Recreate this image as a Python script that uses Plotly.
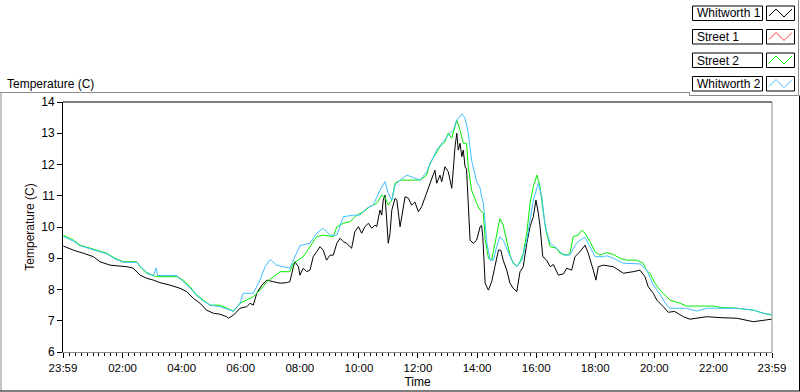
import plotly.graph_objects as go

# ---------------- data (time = hours after 23:59 of the previous day) ----------------
w1_t = [0.01, 0.35, 0.69, 1.03, 1.25, 1.59, 2.16, 2.38, 2.61, 2.83, 3.06, 3.28, 3.62, 3.96, 4.19, 4.41,
        4.64, 4.86, 5.09, 5.31, 5.54, 5.60, 5.77, 5.99, 6.22, 6.33, 6.44, 6.56, 6.73, 6.90, 7.12, 7.35,
        7.57, 7.68, 7.80, 7.85, 7.97, 8.02, 8.13, 8.25, 8.36, 8.47, 8.59, 8.70, 8.81, 8.92, 9.04, 9.15,
        9.27, 9.38, 9.49, 9.60, 9.77, 9.88, 10.00, 10.11, 10.22, 10.34, 10.45, 10.56, 10.62, 10.73, 10.79,
        10.84, 10.90, 10.96, 11.01, 11.07, 11.13, 11.24, 11.30, 11.41, 11.52, 11.58, 11.69, 11.80, 11.91,
        12.03, 12.14, 12.25, 12.37, 12.48, 12.59, 12.65, 12.76, 12.82, 12.93, 13.04, 13.16, 13.21, 13.27,
        13.33, 13.38, 13.44, 13.50, 13.55, 13.61, 13.66, 13.72, 13.78, 13.89, 14.00, 14.12, 14.17, 14.21,
        14.29, 14.40, 14.51, 14.62, 14.74, 14.82, 14.90, 15.02, 15.13, 15.24, 15.36, 15.47, 15.58, 15.70,
        15.81, 15.92, 16.01, 16.09, 16.15, 16.24, 16.37, 16.49, 16.60, 16.77, 16.94, 17.05, 17.22, 17.33,
        17.50, 17.67, 17.78, 17.95, 18.04, 18.12, 18.29, 18.63, 18.97, 19.30, 19.53, 19.70, 19.81, 19.98,
        20.10, 20.32, 20.49, 20.70, 21.00, 21.22, 21.79, 22.24, 22.81, 23.37, 23.71, 23.99]
w1_v = [9.39, 9.26, 9.16, 9.05, 8.89, 8.78, 8.73, 8.68, 8.46, 8.36, 8.30, 8.22, 8.14, 8.04, 7.93, 7.72,
        7.56, 7.34, 7.24, 7.21, 7.13, 7.08, 7.18, 7.40, 7.45, 7.56, 7.50, 7.88, 8.14, 8.30, 8.25, 8.20,
        8.22, 8.25, 8.73, 8.89, 8.73, 8.46, 8.68, 8.57, 8.62, 9.05, 9.21, 9.37, 9.26, 8.94, 9.10, 9.10,
        9.48, 9.64, 9.53, 9.48, 9.32, 9.85, 10.01, 9.80, 10.01, 10.12, 9.96, 10.06, 10.01, 10.54, 10.38,
        10.86, 11.02, 10.22, 9.48, 9.80, 10.54, 10.92, 10.86, 10.01, 10.65, 10.97, 10.92, 10.70, 10.80,
        10.49, 10.65, 10.92, 11.24, 11.50, 11.82, 11.40, 11.66, 11.45, 11.93, 11.77, 11.24, 11.82, 12.57,
        13.00, 12.46, 12.68, 12.25, 12.46, 11.93, 11.85, 10.86, 9.58, 9.48, 9.58, 10.01, 10.05, 9.69,
        8.20, 7.98, 8.25, 8.73, 9.26, 9.26, 8.94, 8.62, 8.20, 8.04, 7.93, 8.57, 8.73, 9.48,
        10.01, 10.33, 10.86, 10.44, 10.00, 9.05, 8.94, 8.73, 8.80, 8.46, 8.50, 8.68, 8.62, 9.05,
        9.21, 9.42, 9.16, 8.62, 8.30, 8.73, 8.78, 8.73, 8.52, 8.57, 8.62, 8.41, 8.09, 7.88,
        7.66, 7.45, 7.27, 7.30, 7.13, 7.05, 7.13, 7.10, 7.08, 6.97, 7.02, 7.05]

s1_t = []   # Street 1: no samples drawn
s1_v = []

s2_t = [0.01, 0.35, 0.58, 1.14, 1.48, 1.76, 2.04, 2.49, 2.61, 2.83, 3.17, 3.85, 4.07, 4.30, 4.53, 4.75,
        4.98, 5.31, 5.54, 5.77, 5.99, 6.44, 6.67, 6.90, 7.35, 7.68, 7.80, 8.13, 8.36, 8.59, 8.81, 9.15,
        9.27, 9.49, 9.72, 9.94, 10.17, 10.39, 10.62, 10.79, 10.90, 11.01, 11.13, 11.24, 11.41, 11.64, 12.09,
        12.31, 12.42, 12.59, 12.76, 12.93, 13.04, 13.16, 13.27, 13.33, 13.44, 13.55, 13.66, 13.72, 13.83,
        14.00, 14.12, 14.23, 14.29, 14.40, 14.51, 14.62, 14.74, 14.79, 14.90, 15.02, 15.13, 15.24, 15.36,
        15.47, 15.58, 15.70, 15.81, 15.92, 16.04, 16.15, 16.26, 16.37, 16.49, 16.71, 16.82, 17.05, 17.16,
        17.27, 17.44, 17.56, 17.67, 17.84, 18.01, 18.18, 18.41, 18.63, 18.86, 19.08, 19.42, 19.64, 19.76,
        19.87, 20.04, 20.21, 20.32, 20.55, 20.89, 21.11, 22.00, 22.24, 22.81, 23.37, 23.71, 23.99]
s2_v = [9.74, 9.58, 9.42, 9.26, 9.16, 9.00, 8.89, 8.89, 8.73, 8.52, 8.41, 8.41, 8.30, 8.09, 7.82, 7.66,
        7.50, 7.50, 7.40, 7.31, 7.56, 7.77, 7.98, 8.25, 8.57, 8.57, 8.84, 9.05, 9.37, 9.69, 9.74, 9.69,
        10.01, 10.12, 10.17, 10.38, 10.49, 10.65, 10.76, 11.02, 10.95, 10.70, 10.86, 11.40, 11.50, 11.50, 11.50,
        11.66, 12.04, 12.30, 12.57, 12.73, 13.00, 12.84, 13.26, 13.42, 13.10, 12.68, 12.68, 11.93, 11.18,
        10.76, 10.54, 10.44, 9.60, 9.00, 8.94, 9.48, 10.00, 10.27, 10.06, 9.58, 9.10, 8.84, 8.73,
        8.89, 9.16, 9.80, 10.76, 11.29, 11.66, 11.29, 10.44, 9.80, 9.37, 9.32, 9.16, 9.10, 9.16,
        9.69, 9.74, 9.90, 9.80, 9.53, 9.21, 9.10, 9.18, 9.12, 9.00, 8.94, 8.94, 8.84, 8.60,
        8.52, 8.20, 7.98, 7.88, 7.66, 7.56, 7.47, 7.47, 7.43, 7.40, 7.34, 7.24, 7.18]

w2_t = [0.01, 0.35, 0.58, 1.14, 1.48, 1.76, 2.04, 2.49, 2.61, 2.83, 3.06, 3.15, 3.20, 3.85, 4.07, 4.30,
        4.53, 4.75, 4.98, 5.31, 5.54, 5.77, 5.99, 6.10, 6.44, 6.67, 6.84, 7.01, 7.23, 7.68, 7.80, 8.02,
        8.36, 8.59, 8.81, 9.04, 9.27, 9.49, 9.83, 10.05, 10.28, 10.50, 10.73, 10.90, 11.01, 11.13, 11.24,
        11.41, 11.64, 11.86, 12.09, 12.31, 12.48, 12.65, 12.87, 13.04, 13.21, 13.33, 13.50, 13.61, 13.72,
        13.83, 14.00, 14.12, 14.17, 14.23, 14.29, 14.35, 14.46, 14.57, 14.68, 14.79, 14.90, 15.02, 15.19,
        15.36, 15.53, 15.70, 15.81, 15.92, 16.09, 16.21, 16.32, 16.49, 16.71, 16.94, 17.16, 17.33, 17.50,
        17.67, 17.84, 18.01, 18.29, 18.41, 18.63, 18.97, 19.53, 19.76, 19.98, 20.21, 20.43, 20.55, 21.11,
        21.45, 21.79, 22.81, 23.37, 23.71, 23.99]
w2_v = [9.70, 9.55, 9.40, 9.25, 9.14, 8.98, 8.87, 8.87, 8.75, 8.55, 8.45, 8.69, 8.45, 8.45, 8.25, 8.05,
        7.80, 7.63, 7.50, 7.45, 7.38, 7.30, 7.55, 7.88, 7.88, 8.30, 8.73, 8.96, 8.78, 8.68, 8.94, 9.40,
        9.48, 9.80, 9.96, 9.74, 9.74, 10.33, 10.38, 10.38, 10.60, 10.70, 11.18, 11.45, 11.08, 10.86, 11.34,
        11.50, 11.66, 11.59, 11.50, 11.77, 12.14, 12.46, 12.73, 12.94, 13.10, 13.42, 13.62, 13.48, 13.00,
        12.14, 11.45, 11.24, 10.97, 10.76, 10.12, 9.48, 8.94, 8.94, 9.37, 9.69, 9.58, 9.32, 8.94,
        8.73, 8.94, 9.58, 10.22, 10.86, 11.40, 10.97, 10.01, 9.48, 9.32, 9.10, 9.10, 9.42, 9.58,
        9.67, 9.37, 9.05, 9.05, 9.08, 9.00, 8.84, 8.82, 8.62, 8.15, 7.85, 7.50, 7.40, 7.40,
        7.31, 7.40, 7.40, 7.34, 7.24, 7.20]

series_names = ["Whitworth 1", "Street 1", "Street 2", "Whitworth 2"]
series_colors = ["#000000", "#ff3a3a", "#00ee00", "#40bfff"]

tick_vals = [0] + [h + 1 / 60 for h in range(2, 24, 2)] + [24]
tick_text = ["23:59", "02:00", "04:00", "06:00", "08:00", "10:00", "12:00",
             "14:00", "16:00", "18:00", "20:00", "22:00", "23:59"]
y_ticks = [6, 7, 8, 9, 10, 11, 12, 13, 14]

# ---------------- layout geometry ----------------
W, H = 800, 392
L, R, T, B = 63, 772, 102, 352


def px(x):
    return (x - L) / (R - L)


def py(y):
    return (B - y) / (B - T)


FONT = "Liberation Sans, Arial, sans-serif"

fig = go.Figure()
for t, v, name, col in zip([w1_t, s1_t, s2_t, w2_t], [w1_v, s1_v, s2_v, w2_v],
                           series_names, series_colors):
    fig.add_trace(go.Scatter(x=t, y=v, mode="lines", name=name,
                             line=dict(color=col, width=1), showlegend=False))

shapes = []


def line(x0, y0, x1, y1, color, width=1):
    shapes.append(dict(type="line", xref="paper", yref="paper",
                       x0=px(x0), y0=py(y0), x1=px(x1), y1=py(y1),
                       line=dict(color=color, width=width)))


# outer frame
line(0, 92.5, 689.5, 92.5, "#8a8a8a")
line(689.5, 92.5, 689.5, 95.5, "#8a8a8a")
line(689.5, 95.5, 798.5, 95.5, "#8a8a8a")
line(798.5, 0, 798.5, 95.5, "#8a8a8a")
line(1, 92.5, 1, 391, "#8a8a8a")
line(0, 391, 800, 391, "#000000")
line(799.5, 95.5, 799.5, 391, "#000000")
# plot frame (top black, right grey)
line(L, T, R, T, "#000000")
line(R, T, R, B, "#8a8a8a")

annotations = [
    dict(text="Temperature (C)", xref="paper", yref="paper", x=px(5), y=py(84),
         xanchor="left", yanchor="middle", showarrow=False,
         font=dict(family=FONT, size=12, color="#000000")),
]

# custom legend
row_y = [13, 36.5, 60, 83.5]
for yc, name, col in zip(row_y, series_names, series_colors):
    shapes.append(dict(type="rect", xref="paper", yref="paper",
                       x0=px(692.5), x1=px(762.5), y0=py(yc - 7), y1=py(yc + 7.5),
                       line=dict(color="#000000", width=1), fillcolor="white"))
    shapes.append(dict(type="rect", xref="paper", yref="paper",
                       x0=px(766.5), x1=px(794.5), y0=py(yc - 7), y1=py(yc + 7.5),
                       line=dict(color="#000000", width=1), fillcolor="white"))
    pts = [(769, yc + 3), (776, yc - 4), (784, yc + 4), (792, yc - 4)]
    path = "M " + " L ".join(f"{px(a)},{py(b)}" for a, b in pts)
    shapes.append(dict(type="path", xref="paper", yref="paper", path=path,
                       line=dict(color=col, width=1)))
    annotations.append(dict(text=name, xref="paper", yref="paper", x=px(695), y=py(yc + 0.5),
                            xanchor="left", yanchor="middle", showarrow=False,
                            font=dict(family=FONT, size=12, color="#000000")))

fig.update_layout(
    width=W, height=H,
    margin=dict(l=L, r=W - R, t=T, b=H - B, pad=0),
    paper_bgcolor="white", plot_bgcolor="white",
    font=dict(family=FONT, size=11, color="#000000"),
    shapes=shapes, annotations=annotations, showlegend=False,
    xaxis=dict(range=[0, 24], tickmode="array", tickvals=tick_vals, ticktext=tick_text,
               showgrid=False, zeroline=False, showline=True, linecolor="#8a8a8a", linewidth=1,
               ticks="outside", ticklen=5, tickcolor="#000000", tickwidth=1,
               tickfont=dict(family=FONT, size=11.5, color="#000000"),
               minor=dict(ticks="outside", ticklen=3, tickcolor="#000000", tick0=1 / 60, dtick=0.2,
                          showgrid=False),
               title=dict(text="Time", font=dict(family=FONT, size=12, color="#000000"), standoff=4),
               automargin=False, fixedrange=True),
    yaxis=dict(range=[6, 14], tickmode="array", tickvals=y_ticks,
               showgrid=False, zeroline=False, showline=True, linecolor="#000000", linewidth=1,
               ticks="outside", ticklen=5, tickcolor="#000000", tickwidth=1,
               tickfont=dict(family=FONT, size=12, color="#000000"),
               title=dict(text="Temperature (C)", font=dict(family=FONT, size=12, color="#1a0a0a"),
                          standoff=4),
               automargin=False, fixedrange=True),
)

fig.write_html("out.html", config={"displayModeBar": False},
               post_script="document.body.style.margin='0';document.body.style.overflow='hidden';")
